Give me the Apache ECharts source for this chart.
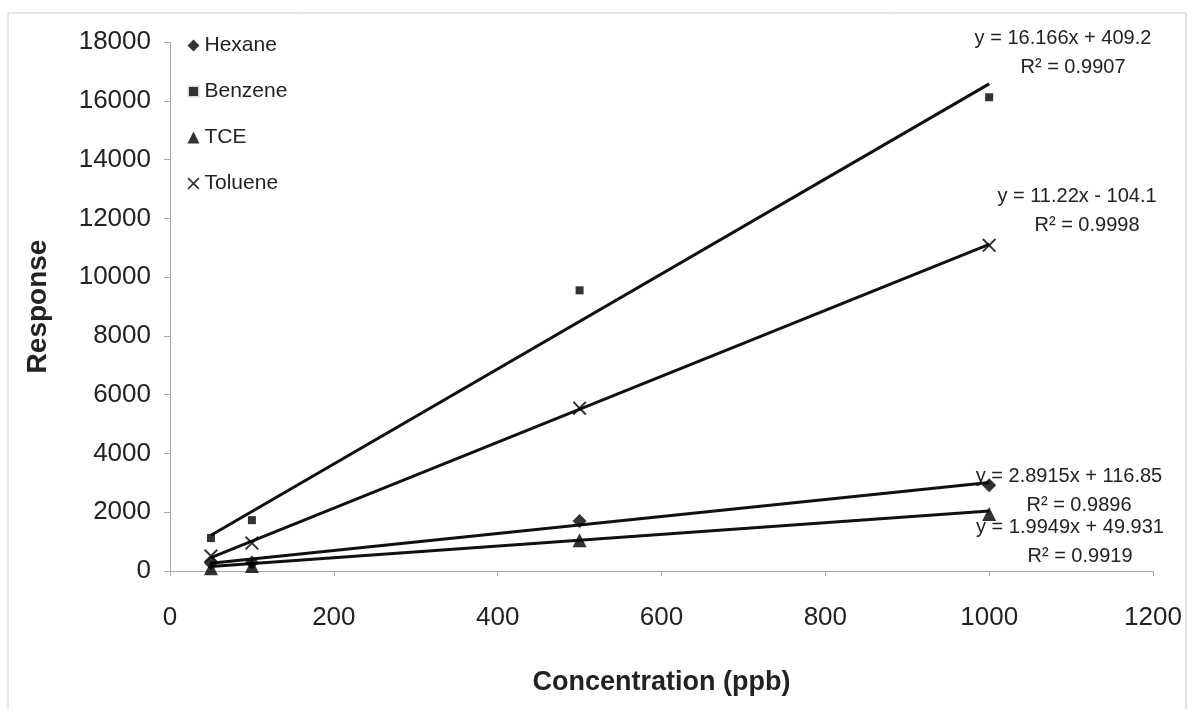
<!DOCTYPE html>
<html>
<head>
<meta charset="utf-8">
<script src="https://cdn.jsdelivr.net/npm/echarts@6/dist/echarts.min.js"></script>
<style>
  html, body { margin: 0; padding: 0; background: #fff; }
  #chart { width: 1194px; height: 709px; }
</style>
</head>
<body>
<div id="chart"></div>
<script>
const conc = [50, 100, 500, 1000];
const hexane = [270, 290, 1700, 2920];
const benzene = [1120, 1730, 9550, 16120];
const tce = [90, 170, 1050, 1940];
const toluene = [510, 950, 5540, 11080];

// fitted lines as printed on the chart: [slope, intercept]
const fitHexane = [2.8915, 116.85];
const fitBenzene = [16.166, 409.2];
const fitTce = [1.9949, 49.931];
const fitToluene = [11.22, -104.1];
const fitRange = [50, 1000];

const eqTexts = [
  ['y = 16.166x + 409.2', 'R\u00b2 = 0.9907'],
  ['y = 11.22x - 104.1', 'R\u00b2 = 0.9998'],
  ['y = 2.8915x + 116.85', 'R\u00b2 = 0.9896'],
  ['y = 1.9949x + 49.931', 'R\u00b2 = 0.9919']
];

const FONT = '"Liberation Sans", Arial, sans-serif';
const crossPath = 'path://M0,1 L1,0 L10,9 L9,10 Z M9,0 L10,1 L1,10 L0,9 Z';

const pts = vals => conc.map((x, i) => [x, vals[i]]);
const fitLine = f => fitRange.map(x => [x, f[0] * x + f[1]]);

const scatter = (name, vals, symbol, size) => ({
  name, type: 'scatter', data: pts(vals), symbol, symbolSize: size,
  itemStyle: { color: '#000' }, z: 5
});
const trend = f => ({
  type: 'line', data: fitLine(f), showSymbol: false, silent: true,
  lineStyle: { color: '#111', width: 3 }, z: 3
});

const eqPos = [[1063, 28], [1077, 186], [1069, 466], [1070, 517]];
const eqGraphics = [];
eqTexts.forEach((t, i) => {
  eqGraphics.push({
    type: 'text', x: eqPos[i][0], y: eqPos[i][1],
    style: { text: t[0], font: '20px ' + FONT, fill: '#222', textAlign: 'center' }
  });
  eqGraphics.push({
    type: 'text', x: eqPos[i][0] + 10, y: eqPos[i][1] + 29,
    style: { text: t[1], font: '20px ' + FONT, fill: '#222', textAlign: 'center' }
  });
});

const chart = echarts.init(document.getElementById('chart'));
chart.setOption({
  backgroundColor: '#fff',
  animation: false,
  textStyle: { fontFamily: FONT },
  grid: { left: 170, right: 41, top: 42, bottom: 138 },
  legend: {
    orient: 'vertical', left: 181, top: 30, itemGap: 25,
    itemWidth: 12, itemHeight: 12,
    textStyle: { fontSize: 21, color: '#222' },
    data: [
      { name: 'Hexane', icon: 'diamond' },
      { name: 'Benzene', icon: 'rect', itemStyle: { borderWidth: 3, borderColor: '#fff' } },
      { name: 'TCE', icon: 'triangle' },
      { name: 'Toluene', icon: crossPath }
    ]
  },
  xAxis: {
    type: 'value', min: 0, max: 1200, interval: 200,
    name: 'Concentration (ppb)', nameLocation: 'middle', nameGap: 98,
    nameTextStyle: { fontSize: 27, fontWeight: 'bold', color: '#222' },
    axisLine: { lineStyle: { color: '#aaa' } },
    axisTick: { length: 5, lineStyle: { color: '#aaa' } },
    axisLabel: { fontSize: 26, color: '#222', margin: 34, formatter: v => String(v) },
    splitLine: { show: false }
  },
  yAxis: {
    type: 'value', min: 0, max: 18000, interval: 2000,
    name: 'Response', nameLocation: 'middle', nameGap: 118,
    nameTextStyle: { fontSize: 28, fontWeight: 'bold', color: '#222' },
    axisLine: { show: true, lineStyle: { color: '#aaa' } },
    axisTick: { show: true, length: 6, lineStyle: { color: '#aaa' } },
    axisLabel: { fontSize: 26, color: '#222', margin: 19, formatter: v => String(v) },
    splitLine: { show: false }
  },
  graphic: [
    { type: 'rect', shape: { x: 8, y: 13, width: 1178, height: 700 },
      style: { fill: 'none', stroke: '#ccc', lineWidth: 1 }, silent: true, z: -1 }
  ].concat(eqGraphics),
  series: [
    trend(fitBenzene), trend(fitToluene), trend(fitHexane), trend(fitTce),
    scatter('Hexane', hexane, 'diamond', 14),
    scatter('Benzene', benzene, 'rect', 8),
    scatter('TCE', tce, 'triangle', 14),
    scatter('Toluene', toluene, crossPath, 14)
  ]
});
</script>
</body>
</html>
